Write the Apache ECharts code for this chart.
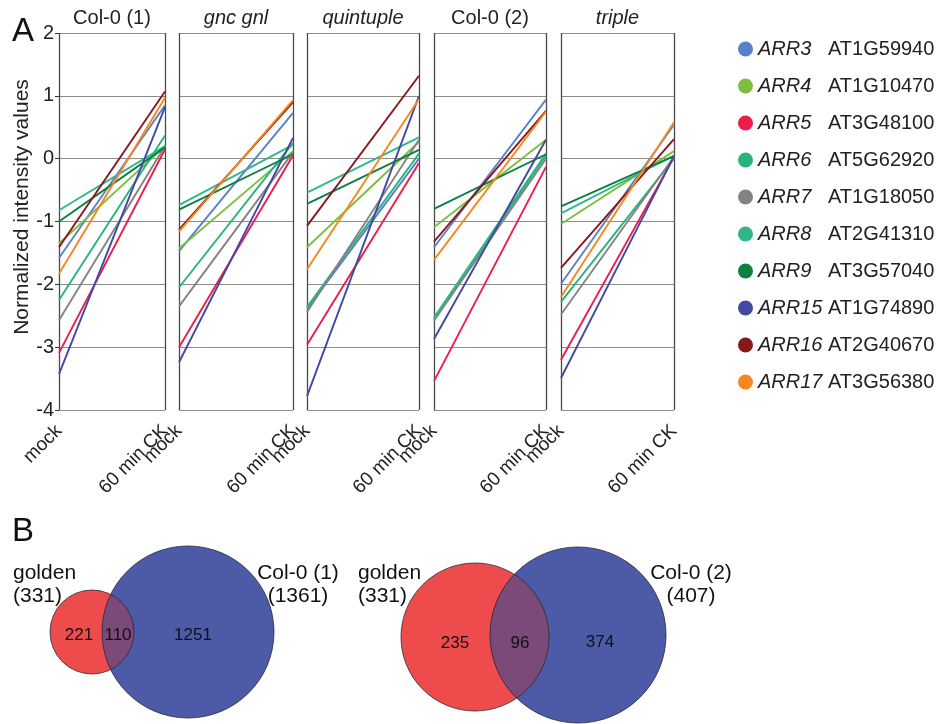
<!DOCTYPE html>
<html>
<head>
<meta charset="utf-8">
<script src="https://cdn.jsdelivr.net/npm/echarts@6/dist/echarts.min.js"></script>
<style>
  html, body { margin: 0; padding: 0; background: #fff; }
  #chart { width: 947px; height: 724px; }
</style>
</head>
<body>
<div id="chart"></div>
<script>
// data
const categories = ['mock', '60 min CK'];
const panelTitles = ['Col-0 (1)', 'gnc gnl', 'quintuple', 'Col-0 (2)', 'triple'];
const panelItalic = [false, true, true, false, true];

const genes = ['ARR3', 'ARR4', 'ARR5', 'ARR6', 'ARR7', 'ARR8', 'ARR9', 'ARR15', 'ARR16', 'ARR17'];
const geneIds = ['AT1G59940', 'AT1G10470', 'AT3G48100', 'AT5G62920', 'AT1G18050',
  'AT2G41310', 'AT3G57040', 'AT1G74890', 'AT2G40670', 'AT3G56380'];
const geneColors = ['#5a80c6', '#7bbf3f', '#ec1c4b', '#27b37e', '#838383',
  '#2fb78a', '#0d7f3e', '#4249a1', '#86181b', '#f6861f'];

// one row per panel, gene order as above
const mockValues = [
  [-1.58, -1.35, -3.09, -2.25, -2.57, -0.82, -1.0, -3.43, -1.41, -1.83],
  [-1.47, -1.43, -3.0, -2.05, -2.35, -0.74, -0.81, -3.24, -1.13, -1.16],
  [-2.39, -1.41, -2.96, -2.36, -2.44, -0.54, -0.72, -3.78, -1.07, -1.76],
  [-1.41, -1.09, -3.54, -2.56, -2.58, -2.53, -0.8, -2.87, -1.32, -1.61],
  [-1.99, -1.04, -3.2, -2.28, -2.48, -0.87, -0.76, -3.49, -1.74, -2.2]
];
const ckValues = [
  [0.85, 0.2, 0.15, 0.37, 0.2, 0.2, 0.18, 0.82, 1.07, 0.97],
  [0.73, 0.12, 0.05, 0.25, 0.1, 0.22, 0.07, 0.33, 0.9, 0.93],
  [0.0, 0.27, -0.07, 0.08, 0.3, 0.34, 0.14, 1.0, 1.32, 0.95],
  [0.94, 0.3, -0.13, 0.05, 0.0, 0.08, 0.07, 0.3, 0.76, 0.75],
  [0.54, 0.12, 0.02, 0.0, 0.03, 0.05, 0.04, 0.04, 0.31, 0.58]
];

// venn: [golden only, overlap, other only]
const vennCounts = [[221, 110, 1251], [235, 96, 374]];
const vennLeftLabels = ['golden\n(331)', 'golden\n(331)'];
const vennRightLabels = ['Col-0 (1)\n(1361)', 'Col-0 (2)\n(407)'];

// layout
const FONT = "'Liberation Sans', Arial, Helvetica, sans-serif";
const NARROW = "'Liberation Sans Narrow', 'Liberation Sans', Arial, sans-serif";
const panelBoxes = [[59, 106], [179, 114], [307, 112], [434, 112], [561, 113]];
const panelTop = 33, panelHeight = 377;

const vennLayout = [
  { red: [92, 632, 42], blue: [188, 632, 86], nums: [[79, 635], [118, 635], [193, 635]],
    leftLabel: [13, 585, 'left'], rightLabel: [298, 585, 'center'] },
  { red: [475, 637, 74], blue: [578, 635, 88], nums: [[455, 643], [520, 643], [600, 642]],
    leftLabel: [358, 585, 'left'], rightLabel: [691, 585, 'center'] }
];

const chart = echarts.init(document.getElementById('chart'), null, { renderer: 'canvas' });

const grids = [], xAxes = [], yAxes = [], series = [];

panelBoxes.forEach(([left, width], p) => {
  grids.push({ left: left, top: panelTop, width: width, height: panelHeight });
  xAxes.push({
    type: 'category', gridIndex: p, data: categories, boundaryGap: false,
    axisLine: { show: false }, axisTick: { show: false },
    splitLine: { show: true, interval: 0, lineStyle: { color: '#4a4a4a', width: 1.3 } },
    axisLabel: { interval: 0, rotate: 45, margin: 18, fontSize: 19, color: '#222', fontFamily: FONT }
  });
  yAxes.push({
    type: 'value', gridIndex: p, min: -4, max: 2, interval: 1,
    axisLine: { show: false },
    axisTick: { show: p === 0, length: 4, lineStyle: { color: '#333' } },
    axisLabel: { show: p === 0, fontSize: 20, color: '#222', margin: 5, fontFamily: FONT },
    splitLine: { lineStyle: { color: '#8c8c8c', width: 1 } }
  });
  genes.forEach((g, i) => {
    series.push({
      type: 'line', name: g, xAxisIndex: p, yAxisIndex: p,
      data: [mockValues[p][i], ckValues[p][i]],
      symbol: 'none', color: geneColors[i],
      itemStyle: { color: geneColors[i] },
      lineStyle: { width: 1.9, color: geneColors[i] },
      animation: false
    });
  });
});

// hidden pixel-like grid for the venn diagrams
grids.push({ left: 0, top: 0, width: 947, height: 724 });
xAxes.push({ type: 'value', gridIndex: 5, min: 0, max: 947, show: false });
yAxes.push({ type: 'value', gridIndex: 5, min: 0, max: 724, inverse: true, show: false });

function lensPoints(a, b) {
  const pts = [];
  const N = 240;
  for (let i = -N; i <= N; i++) {
    const t = Math.PI * i / N;
    const px = a.x + a.r * Math.cos(t), py = a.y + a.r * Math.sin(t);
    if (Math.hypot(px - b.x, py - b.y) <= b.r) pts.push([px, py]);
  }
  for (let i = 0; i <= 2 * N; i++) {
    const t = Math.PI * i / N;
    const px = b.x + b.r * Math.cos(t), py = b.y + b.r * Math.sin(t);
    if (Math.hypot(px - a.x, py - a.y) <= a.r) pts.push([px, py]);
  }
  return pts;
}

series.push({
  type: 'custom', xAxisIndex: 5, yAxisIndex: 5, silent: true, animation: false,
  data: vennCounts.map((c, i) => [i]),
  renderItem: (params, api) => {
    const k = api.value(0);
    const L = vennLayout[k];
    const toCircle = (c) => {
      const pt = api.coord([c[0], c[1]]);
      return { x: pt[0], y: pt[1], r: api.size([c[2], 0])[0] };
    };
    const red = toCircle(L.red), blue = toCircle(L.blue);
    const stroke = { stroke: '#2a2a2a', lineWidth: 0.8, fill: null };
    const children = [
      { type: 'circle', shape: { cx: red.x, cy: red.y, r: red.r }, style: { fill: '#ee4b4c' } },
      { type: 'circle', shape: { cx: blue.x, cy: blue.y, r: blue.r }, style: { fill: '#4c5aa7' } },
      { type: 'polygon', shape: { points: lensPoints(red, blue) }, style: { fill: '#7c4a78' } },
      { type: 'circle', shape: { cx: red.x, cy: red.y, r: red.r }, style: stroke },
      { type: 'circle', shape: { cx: blue.x, cy: blue.y, r: blue.r }, style: stroke }
    ];
    vennCounts[k].forEach((n, j) => {
      const pt = api.coord(L.nums[j]);
      children.push({ type: 'text', x: pt[0], y: pt[1],
        style: { text: String(n), fill: '#111', font: '17px ' + NARROW, align: 'center', verticalAlign: 'middle' } });
    });
    const lp = api.coord([L.leftLabel[0], L.leftLabel[1]]);
    children.push({ type: 'text', x: lp[0], y: lp[1],
      style: { text: vennLeftLabels[k], fill: '#111', font: '21px ' + NARROW, lineHeight: 23,
        align: L.leftLabel[2], verticalAlign: 'middle' } });
    const rp = api.coord([L.rightLabel[0], L.rightLabel[1]]);
    children.push({ type: 'text', x: rp[0], y: rp[1],
      style: { text: vennRightLabels[k], fill: '#111', font: '21px ' + NARROW, lineHeight: 23,
        align: L.rightLabel[2], verticalAlign: 'middle' } });
    return { type: 'group', children: children };
  }
});

const graphics = [
  { type: 'text', x: 12, y: 32, style: { text: 'A', font: '33px ' + FONT, fill: '#111', verticalAlign: 'middle' } },
  { type: 'text', x: 12, y: 532, style: { text: 'B', font: '33px ' + FONT, fill: '#111', verticalAlign: 'middle' } },
  { type: 'text', x: 22, y: 207, rotation: Math.PI / 2,
    style: { text: 'Normalized intensity values', font: '21px ' + FONT, fill: '#222', align: 'center', verticalAlign: 'middle' } }
];
panelTitles.forEach((t, p) => {
  const [left, width] = panelBoxes[p];
  graphics.push({ type: 'text', x: left + width / 2, y: 18,
    style: { text: t, font: (panelItalic[p] ? 'italic ' : '') + '20px ' + FONT, fill: '#222',
      align: 'center', verticalAlign: 'middle' } });
});

chart.setOption({
  animation: false,
  grid: grids,
  xAxis: xAxes,
  yAxis: yAxes,
  legend: {
    data: genes, orient: 'vertical', left: 733, top: 34,
    icon: 'circle', itemWidth: 15, itemHeight: 15, itemGap: 17,
    selectedMode: false,
    formatter: (name) => `{n|${name}}{id|${geneIds[genes.indexOf(name)]}}`,
    textStyle: {
      rich: {
        n: { fontStyle: 'italic', fontSize: 20, fontFamily: FONT, color: '#222', width: 70, lineHeight: 20 },
        id: { fontSize: 20, fontFamily: FONT, color: '#222', lineHeight: 20 }
      }
    }
  },
  graphic: graphics,
  series: series
});
</script>
</body>
</html>
